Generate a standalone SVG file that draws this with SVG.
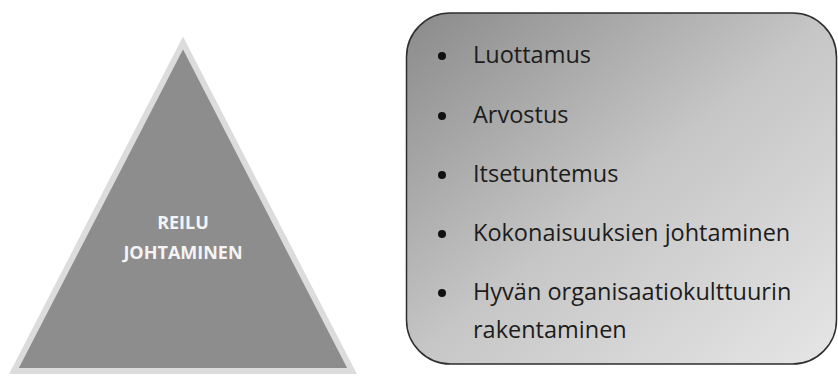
<svg xmlns="http://www.w3.org/2000/svg" width="838" height="376" viewBox="0 0 838 376">
<defs>
<linearGradient id="boxGrad" x1="0" y1="0" x2="1" y2="1">
<stop offset="0" stop-color="#8a8a8a"/>
<stop offset="0.5" stop-color="#c6c6c6"/>
<stop offset="1" stop-color="#e6e6e6"/>
</linearGradient>
<style>
.tri{fill:#8d8d8d;stroke:#dcdcdc;stroke-width:6;stroke-linejoin:miter}
.tlabel{font-family:"Open Sans","Liberation Sans",sans-serif;font-weight:bold;font-size:18px;fill:#f4f4f4;text-anchor:middle}
.box{fill:url(#boxGrad);stroke:#2e2e2e;stroke-width:1.5}
.item{font-family:"Open Sans","Liberation Sans",sans-serif;font-size:23.5px;fill:#1c1c1c}
.bullet{fill:#111}
</style>
</defs>
<rect width="838" height="376" fill="#ffffff"/>
<g id="pyramid">
<polygon class="tri" points="183,43 14,371 352,371"/>
<text class="tlabel" x="183" y="229">REILU</text>
<text class="tlabel" x="183" y="259">JOHTAMINEN</text>
</g>
<g id="list">
<rect class="box" x="406.5" y="13" width="430" height="351" rx="44" ry="44"/>
<circle class="bullet" cx="442" cy="56" r="4"/>
<text class="item" x="473" y="63">Luottamus</text>
<circle class="bullet" cx="442" cy="116" r="4"/>
<text class="item" x="473" y="123">Arvostus</text>
<circle class="bullet" cx="442" cy="175" r="4"/>
<text class="item" x="473" y="182">Itsetuntemus</text>
<circle class="bullet" cx="442" cy="234" r="4"/>
<text class="item" x="473" y="241">Kokonaisuuksien johtaminen</text>
<circle class="bullet" cx="442" cy="293" r="4"/>
<text class="item" x="473" y="300">Hyvän organisaatiokulttuurin</text>
<text class="item" x="473" y="338">rakentaminen</text>
</g>
<g id="connectors"/>
</svg>
